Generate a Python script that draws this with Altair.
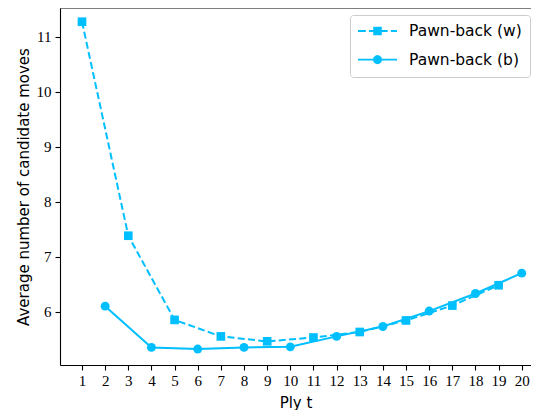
import altair as alt
import pandas as pd

# ---- data ----
plies_w = [1, 3, 5, 7, 9, 11, 13, 15, 17, 19]
moves_w = [11.27, 7.38, 5.85, 5.55, 5.46, 5.53, 5.63, 5.84, 6.11, 6.48]
plies_b = [2, 4, 6, 8, 10, 12, 14, 16, 18, 20]
moves_b = [6.10, 5.35, 5.32, 5.35, 5.36, 5.55, 5.73, 6.01, 6.33, 6.70]
series_names = ["Pawn-back (w)", "Pawn-back (b)"]
x_ticks = list(range(1, 21))
y_ticks = [6, 7, 8, 9, 10, 11]

COLOR = "#00BFFF"
SERIF = "'Liberation Serif', 'DejaVu Serif', serif"
SANS = "DejaVu Sans"

df = pd.DataFrame({
    "ply": plies_w + plies_b,
    "moves": moves_w + moves_b,
    "series": [series_names[0]] * len(plies_w) + [series_names[1]] * len(plies_b),
})

# legend symbols (filled shapes only): line pieces drawn as thin bars,
# dashed for (w) with a square, solid for (b) with a round marker
PATH_W = ("M-1,-0.05H-0.6V0.05H-1Z"
          "M-0.44,-0.05H0.52V0.05H-0.44Z"
          "M0.69,-0.05H1V0.05H0.69Z"
          "M-0.22,-0.22H0.22V0.22H-0.22Z")
PATH_B = ("M-1,-0.05H1V0.05H-1Z"
          "M0.235,0L0.2035,0.1175L0.1175,0.2035L0,0.235L-0.1175,0.2035"
          "L-0.2035,0.1175L-0.235,0L-0.2035,-0.1175L-0.1175,-0.2035"
          "L0,-0.235L0.1175,-0.2035L0.2035,-0.1175Z")

W, H = 471, 357
x_scale = alt.Scale(domain=[0.049, 20.40], nice=False, zero=False)
y_scale = alt.Scale(domain=[5.03, 11.52], nice=False, zero=False)

x_axis = alt.Axis(values=x_ticks, title="Ply t", grid=False, format="d",
                  labelFont=SERIF, labelFontSize=15, labelPadding=3,
                  labelFlush=False, tickSize=5,
                  titleFont=SANS, titleFontSize=15, titleFontWeight="normal",
                  titlePadding=7)
y_axis = alt.Axis(values=y_ticks, title="Average number of candidate moves",
                  grid=False, format="d",
                  labelFont=SERIF, labelFontSize=15, labelPadding=4,
                  labelFlush=False, tickSize=5,
                  titleFont=SANS, titleFontSize=15, titleFontWeight="normal",
                  titlePadding=5)

X = alt.X("ply:Q", scale=x_scale, axis=x_axis)
Y = alt.Y("moves:Q", scale=y_scale, axis=y_axis)

base = alt.Chart(df)
w_data = base.transform_filter(alt.datum.series == series_names[0])
b_data = base.transform_filter(alt.datum.series == series_names[1])

line_w = w_data.mark_line(color=COLOR, strokeWidth=2, strokeDash=[7, 3.3]).encode(x=X, y=Y)
line_b = b_data.mark_line(color=COLOR, strokeWidth=2).encode(x=X, y=Y)
squares = w_data.mark_square(color=COLOR, size=75, opacity=1).encode(x=X, y=Y)
circles = b_data.mark_circle(color=COLOR, size=80, opacity=1).encode(x=X, y=Y)

legend_layer = base.mark_point(
    filled=True, fill=COLOR, strokeWidth=0, opacity=0
).encode(
    x=X, y=Y,
    shape=alt.Shape(
        "series:N",
        scale=alt.Scale(domain=series_names, range=[PATH_W, PATH_B]),
        legend=alt.Legend(
            title=None, orient="none", legendX=290, legendY=7,
            labelFont=SANS, labelFontSize=15.5, labelColor="black",
            labelOffset=12, symbolSize=1521, symbolStrokeWidth=0,
            symbolOpacity=1, symbolFillColor=COLOR,
            clipHeight=16, rowPadding=11.6, padding=8,
            strokeColor="#cccccc", fillColor="white", cornerRadius=3,
        ),
    ),
)

top_frame = alt.Chart(pd.DataFrame({"k": [0]})).mark_rule(
    color="black", strokeWidth=1.1
).encode(x=alt.value(0), x2=alt.value(W), y=alt.value(0))

chart = alt.layer(line_w, line_b, squares, circles, legend_layer, top_frame).properties(
    width=W,
    height=H,
    autosize=alt.AutoSizeParams(type="none"),
    padding={"left": 52, "top": 0, "right": 0, "bottom": 45},
).configure_view(
    stroke=None
).configure_axis(
    domainColor="black", domainWidth=1.1, tickColor="black", tickWidth=1.1,
    labelColor="black", titleColor="black",
)

chart.save("out.html", embed_options={"renderer": "svg", "actions": False})
